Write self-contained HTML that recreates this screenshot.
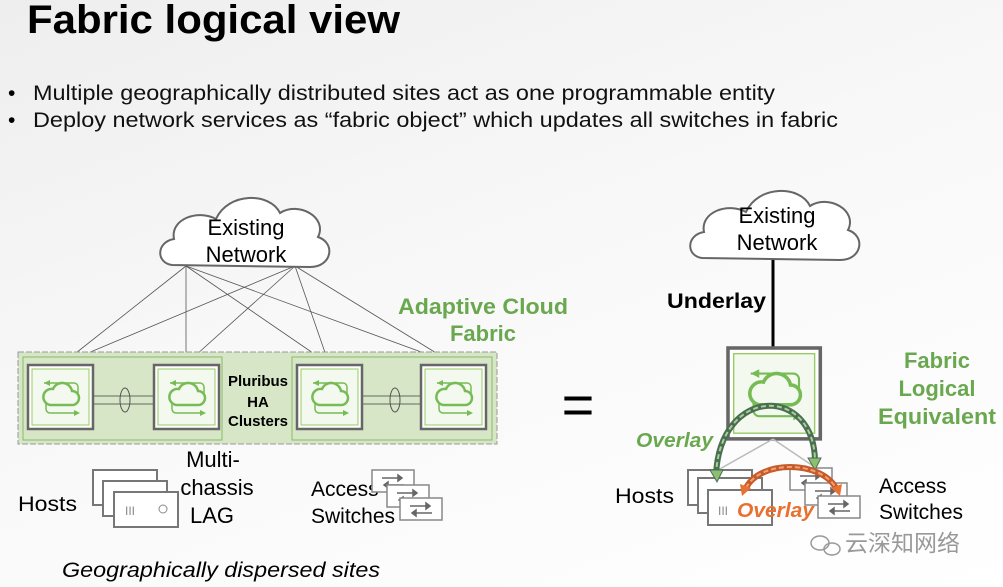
<!DOCTYPE html>
<html><head><meta charset="utf-8"><style>
html,body{margin:0;padding:0}
body{width:1003px;height:587px;overflow:hidden;background:linear-gradient(160deg,#eeeeee 0%,#f8f8f8 45%,#ffffff 100%);font-family:"Liberation Sans",sans-serif}
svg{position:absolute;left:0;top:0}
</style></head><body>
<svg width="1003" height="587" viewBox="0 0 1003 587" font-family="Liberation Sans, sans-serif">
<defs>
<g id="sw">
<rect x="0" y="0" width="65" height="64" fill="#fff" stroke="#666" stroke-width="2.5"/>
<rect x="4" y="4" width="57" height="56" fill="#f4f9ef" stroke="#9c6" stroke-width="1"/>
<path d="M22 40 h22 a7 7 0 0 0 0-14 a10 10 0 0 0-19-2 a7 7 0 0 0-3 16z" fill="none" stroke="#7b5" stroke-width="2.5"/>
<path d="M50 30 v-8 a4 4 0 0 0-4-4 h-30" fill="none" stroke="#7b5" stroke-width="1.5"/><path d="M16 18 l6-3 v6z" fill="#7b5"/>
<path d="M18 38 v6 a4 4 0 0 0 4 4 h28" fill="none" stroke="#7b5" stroke-width="1.5"/><path d="M52 48 l-6-3 v6z" fill="#7b5"/>
</g>
<g id="host"><rect width="64" height="35" fill="#fff" stroke="#777" stroke-width="2"/></g>
<g id="as"><rect width="42" height="22" fill="#fff" stroke="#888" stroke-width="1.5"/><path d="M10 8h20M30 8l-4-3v6zM32 15h-20M12 15l4-3v6z" stroke="#666" fill="#666" stroke-width="1.5"/></g>
<path id="cloud" d="M14 78 C-2 76 -2 55 16 52 C12 32 40 22 58 32 C70 5 112 5 122 26 C140 14 170 30 160 50 C178 56 174 80 152 80 Z"/>
</defs>
<text x="27" y="33" font-size="40" font-weight="bold" fill="#000" textLength="373" lengthAdjust="spacingAndGlyphs">Fabric logical view</text>
<text x="8" y="100" font-size="21" fill="#000">•</text><text x="33" y="100" font-size="21" fill="#111" textLength="742" lengthAdjust="spacingAndGlyphs">Multiple geographically distributed sites act as one programmable entity</text>
<text x="8" y="127" font-size="21" fill="#000">•</text><text x="33" y="127" font-size="21" fill="#111" textLength="805" lengthAdjust="spacingAndGlyphs">Deploy network services as “fabric object” which updates all switches in fabric</text>

<g stroke="#555" stroke-width="0.8">
<line x1="186" y1="266" x2="62" y2="364"/><line x1="186" y1="266" x2="186" y2="364"/><line x1="186" y1="266" x2="329" y2="364"/><line x1="186" y1="266" x2="454" y2="364"/>
<line x1="295" y1="266" x2="62" y2="364"/><line x1="295" y1="266" x2="186" y2="364"/><line x1="295" y1="266" x2="329" y2="364"/><line x1="295" y1="266" x2="454" y2="364"/>
</g>
<use href="#cloud" transform="translate(158,187)" fill="#fff" stroke="#666" stroke-width="2"/>
<text x="246" y="235" font-size="22" text-anchor="middle">Existing</text>
<text x="246" y="262" font-size="22" text-anchor="middle">Network</text>
<text x="483" y="314" font-size="22" font-weight="bold" fill="#6aa84f" text-anchor="middle" textLength="170" lengthAdjust="spacingAndGlyphs">Adaptive Cloud</text>
<text x="483" y="341" font-size="22" font-weight="bold" fill="#6aa84f" text-anchor="middle">Fabric</text>
<rect x="18" y="352" width="479" height="92" fill="#d6e6c6" stroke="#999" stroke-dasharray="6 2"/>
<rect x="23" y="357" width="199" height="83" fill="none" stroke="#8b6"/>
<rect x="292" y="357" width="200" height="83" fill="none" stroke="#8b6"/>
<g stroke="#666" stroke-width="1"><line x1="93" y1="396" x2="153" y2="396"/><line x1="93" y1="404" x2="153" y2="404"/><line x1="362" y1="396" x2="421" y2="396"/><line x1="362" y1="404" x2="421" y2="404"/></g>
<ellipse cx="125" cy="400" rx="5" ry="12" fill="none" stroke="#555"/>
<ellipse cx="395" cy="400" rx="5" ry="12" fill="none" stroke="#555"/>
<use href="#sw" x="28" y="365"/><use href="#sw" x="154" y="365"/><use href="#sw" x="297" y="365"/><use href="#sw" x="421" y="365"/>
<text x="258" y="386" font-size="15" font-weight="bold" text-anchor="middle">Pluribus</text>
<text x="258" y="407" font-size="15" font-weight="bold" text-anchor="middle">HA</text>
<text x="258" y="426" font-size="15" font-weight="bold" text-anchor="middle">Clusters</text>
<use href="#host" x="93" y="470"/><use href="#host" x="103" y="481"/><use href="#host" x="114" y="492"/>
<text x="125" y="515" font-size="12" fill="#888">III</text><circle cx="163" cy="509" r="4" fill="none" stroke="#888"/>
<text x="18" y="511" font-size="21" textLength="59" lengthAdjust="spacingAndGlyphs">Hosts</text>
<text x="213" y="467" font-size="22" text-anchor="middle">Multi-</text>
<text x="217" y="495" font-size="22" text-anchor="middle">chassis</text>
<text x="212" y="523" font-size="22" text-anchor="middle">LAG</text>
<text x="311" y="496" font-size="21">Access</text>
<text x="311" y="523" font-size="21">Switches</text>
<use href="#as" x="372" y="470"/><use href="#as" x="387" y="485"/><use href="#as" x="400" y="498"/>
<text x="62" y="577" font-size="21" font-style="italic" textLength="318" lengthAdjust="spacingAndGlyphs">Geographically dispersed sites</text>

<text x="578" y="424" font-size="56" text-anchor="middle">=</text>

<line x1="773" y1="260" x2="773" y2="348" stroke="#000" stroke-width="3"/>
<use href="#cloud" transform="translate(688,180)" fill="#fff" stroke="#666" stroke-width="2"/>
<text x="777" y="223" font-size="22" text-anchor="middle">Existing</text>
<text x="777" y="250" font-size="22" text-anchor="middle">Network</text>
<text x="667" y="308" font-size="21" font-weight="bold" textLength="99" lengthAdjust="spacingAndGlyphs">Underlay</text>
<g transform="translate(728,348) scale(1.42)"><use href="#sw"/></g>
<g stroke="#bbb" stroke-width="1.5"><line x1="773" y1="439" x2="718" y2="470"/><line x1="773" y1="439" x2="816" y2="468"/></g>
<text x="937" y="368" font-size="22" font-weight="bold" fill="#6aa84f" text-anchor="middle">Fabric</text>
<text x="937" y="396" font-size="22" font-weight="bold" fill="#6aa84f" text-anchor="middle">Logical</text>
<text x="937" y="424" font-size="22" font-weight="bold" fill="#6aa84f" text-anchor="middle" textLength="118" lengthAdjust="spacingAndGlyphs">Equivalent</text>
<use href="#host" x="688" y="470"/><use href="#host" x="698" y="478"/><use href="#host" x="708" y="490"/>
<text x="718" y="515" font-size="12" fill="#888">III</text>
<text x="615" y="503" font-size="21" textLength="59" lengthAdjust="spacingAndGlyphs">Hosts</text>
<use href="#as" x="790" y="468"/><use href="#as" x="805" y="483"/><use href="#as" x="818" y="496"/>
<text x="879" y="493" font-size="21">Access</text>
<text x="879" y="519" font-size="21">Switches</text>
<path d="M716 475 C720 385 815 385 815 462" fill="none" stroke="#4a6d55" stroke-width="6"/>
<path d="M716 475 C720 385 815 385 815 462" fill="none" stroke="#a9d18e" stroke-width="2" stroke-dasharray="5 3"/>
<path d="M710 470 l7 12 l6-12z M808 458 l7 12 l6-12z" fill="#8bc070" stroke="#4a6d55"/>
<path d="M746 488 C760 460 820 460 836 488" fill="none" stroke="#c55a2a" stroke-width="6"/>
<path d="M746 488 C760 460 820 460 836 488" fill="none" stroke="#f4a070" stroke-width="2" stroke-dasharray="5 3"/>
<path d="M740 484 l2 12 l9-8z M842 484 l-2 12 l-9-8z" fill="#e87030"/>
<text x="636" y="447" font-size="20" font-weight="bold" font-style="italic" fill="#6aa84f" textLength="77" lengthAdjust="spacingAndGlyphs">Overlay</text>
<text x="737" y="517" font-size="20" font-weight="bold" font-style="italic" fill="#e87030" textLength="77" lengthAdjust="spacingAndGlyphs">Overlay</text>
<text x="845" y="551" font-size="23" fill="#999" font-family="Liberation Sans, Noto Sans CJK SC, sans-serif">云深知网络</text>
<ellipse cx="820" cy="543" rx="9" ry="7" fill="none" stroke="#999" stroke-width="1.5"/><ellipse cx="832" cy="549" rx="8" ry="6" fill="none" stroke="#999" stroke-width="1.5"/>
</svg>
</body></html>
